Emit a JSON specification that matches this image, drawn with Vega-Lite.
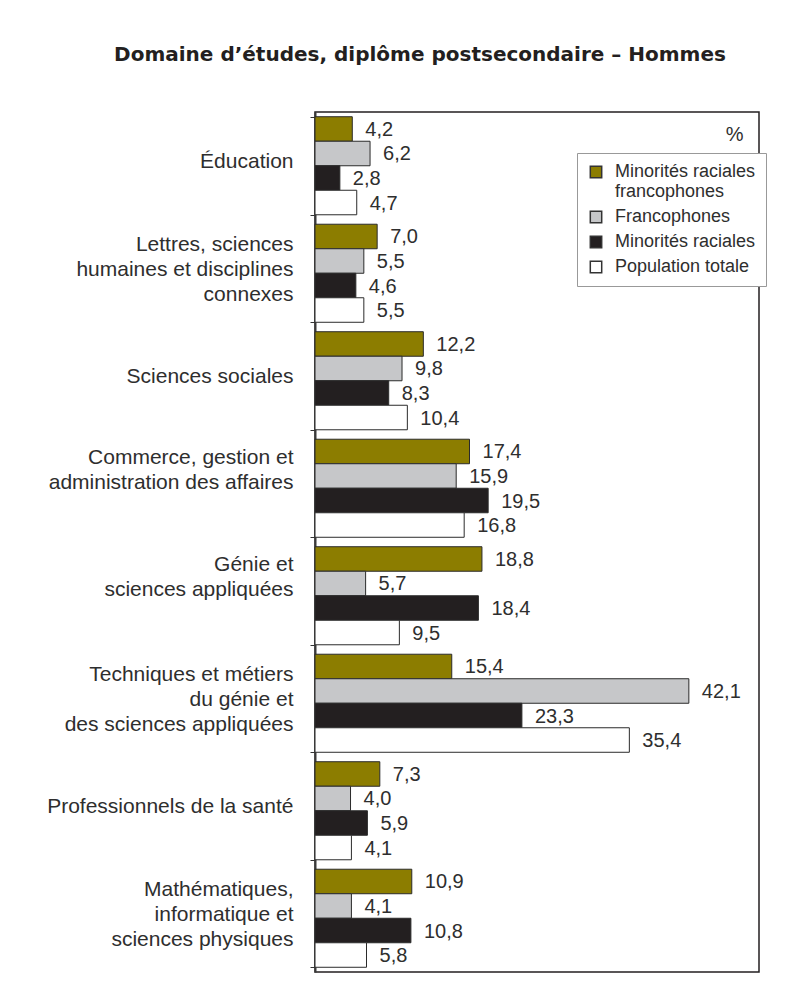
{
  "$schema": "https://vega.github.io/schema/vega-lite/v6.json",
  "width": 444,
  "height": 860,
  "autosize": {"type": "none"},
  "padding": {"left": 315, "top": 112, "right": 53, "bottom": 16},
  "background": "white",
  "title": {
    "text": "Domaine d’études, diplôme postsecondaire – Hommes",
    "anchor": "middle",
    "frame": "group",
    "dx": -117,
    "offset": 20,
    "baseline": "alphabetic",
    "font": "DejaVu Sans",
    "fontSize": 20,
    "fontWeight": "bold",
    "color": "#231f20"
  },
  "data": {
    "values": [
      {"domaine": "Éducation", "groupe": "Minorités raciales francophones", "pct": 4.2},
      {"domaine": "Éducation", "groupe": "Francophones", "pct": 6.2},
      {"domaine": "Éducation", "groupe": "Minorités raciales", "pct": 2.8},
      {"domaine": "Éducation", "groupe": "Population totale", "pct": 4.7},
      {"domaine": "Lettres, sciences|humaines et disciplines|connexes", "groupe": "Minorités raciales francophones", "pct": 7.0},
      {"domaine": "Lettres, sciences|humaines et disciplines|connexes", "groupe": "Francophones", "pct": 5.5},
      {"domaine": "Lettres, sciences|humaines et disciplines|connexes", "groupe": "Minorités raciales", "pct": 4.6},
      {"domaine": "Lettres, sciences|humaines et disciplines|connexes", "groupe": "Population totale", "pct": 5.5},
      {"domaine": "Sciences sociales", "groupe": "Minorités raciales francophones", "pct": 12.2},
      {"domaine": "Sciences sociales", "groupe": "Francophones", "pct": 9.8},
      {"domaine": "Sciences sociales", "groupe": "Minorités raciales", "pct": 8.3},
      {"domaine": "Sciences sociales", "groupe": "Population totale", "pct": 10.4},
      {"domaine": "Commerce, gestion et|administration des affaires", "groupe": "Minorités raciales francophones", "pct": 17.4},
      {"domaine": "Commerce, gestion et|administration des affaires", "groupe": "Francophones", "pct": 15.9},
      {"domaine": "Commerce, gestion et|administration des affaires", "groupe": "Minorités raciales", "pct": 19.5},
      {"domaine": "Commerce, gestion et|administration des affaires", "groupe": "Population totale", "pct": 16.8},
      {"domaine": "Génie et|sciences appliquées", "groupe": "Minorités raciales francophones", "pct": 18.8},
      {"domaine": "Génie et|sciences appliquées", "groupe": "Francophones", "pct": 5.7},
      {"domaine": "Génie et|sciences appliquées", "groupe": "Minorités raciales", "pct": 18.4},
      {"domaine": "Génie et|sciences appliquées", "groupe": "Population totale", "pct": 9.5},
      {"domaine": "Techniques et métiers|du génie et|des sciences appliquées", "groupe": "Minorités raciales francophones", "pct": 15.4},
      {"domaine": "Techniques et métiers|du génie et|des sciences appliquées", "groupe": "Francophones", "pct": 42.1},
      {"domaine": "Techniques et métiers|du génie et|des sciences appliquées", "groupe": "Minorités raciales", "pct": 23.3},
      {"domaine": "Techniques et métiers|du génie et|des sciences appliquées", "groupe": "Population totale", "pct": 35.4},
      {"domaine": "Professionnels de la santé", "groupe": "Minorités raciales francophones", "pct": 7.3},
      {"domaine": "Professionnels de la santé", "groupe": "Francophones", "pct": 4.0},
      {"domaine": "Professionnels de la santé", "groupe": "Minorités raciales", "pct": 5.9},
      {"domaine": "Professionnels de la santé", "groupe": "Population totale", "pct": 4.1},
      {"domaine": "Mathématiques,|informatique et|sciences physiques", "groupe": "Minorités raciales francophones", "pct": 10.9},
      {"domaine": "Mathématiques,|informatique et|sciences physiques", "groupe": "Francophones", "pct": 4.1},
      {"domaine": "Mathématiques,|informatique et|sciences physiques", "groupe": "Minorités raciales", "pct": 10.8},
      {"domaine": "Mathématiques,|informatique et|sciences physiques", "groupe": "Population totale", "pct": 5.8}
    ]
  },
  "encoding": {
    "y": {
      "field": "domaine",
      "type": "nominal",
      "sort": null,
      "scale": {"paddingInner": 0.088, "paddingOuter": 0.044},
      "axis": {
        "title": null,
        "tickBand": "extent",
        "tickOffset": -4,
        "labelExpr": "split(datum.label, '|')",
        "labelOffset": {
          "condition": [
            {"test": "length(split(datum.label, '|')) == 3", "value": -29},
            {"test": "length(split(datum.label, '|')) == 2", "value": -31}
          ],
          "value": -4
        },
        "labelFont": "Liberation Sans",
        "labelFontSize": 21,
        "labelColor": "#2e2e2e",
        "labelPadding": 17,
        "labelLineHeight": 25,
        "labelLimit": 0,
        "ticks": true,
        "tickSize": 5,
        "tickColor": "#333333",
        "domainColor": "#3a3a3a",
        "domainWidth": 2
      }
    },
    "yOffset": {
      "field": "groupe",
      "type": "nominal",
      "sort": ["Minorités raciales francophones", "Francophones", "Minorités raciales", "Population totale"],
      "scale": {"paddingInner": 0, "paddingOuter": 0}
    },
    "x": {
      "field": "pct",
      "type": "quantitative",
      "scale": {"domain": [0, 50], "nice": false},
      "axis": {
        "orient": "top",
        "title": "%",
        "labels": false,
        "ticks": false,
        "domain": false,
        "grid": false,
        "titleX": 428,
        "titleY": 22,
        "titleAlign": "right",
        "titleBaseline": "middle",
        "titleFont": "Liberation Sans",
        "titleFontWeight": "normal",
        "titleFontSize": 20,
        "titleColor": "#2e2e2e",
        "minExtent": 0,
        "maxExtent": 0
      }
    }
  },
  "layer": [
    {
      "mark": {"type": "bar", "stroke": "#2b2b2b", "strokeWidth": 1},
      "encoding": {
        "color": {
          "field": "groupe",
          "type": "nominal",
          "scale": {
            "domain": ["Minorités raciales francophones", "Francophones", "Minorités raciales", "Population totale"],
            "range": ["#8c7d00", "#c6c7c9", "#231f20", "#ffffff"]
          },
          "legend": {
            "orient": "none",
            "legendX": 262,
            "legendY": 41,
            "title": null,
            "symbolType": "square",
            "symbolSize": 130,
            "symbolStrokeColor": "#333333",
            "symbolStrokeWidth": 1.5,
            "symbolOpacity": 1,
            "labelFont": "Liberation Sans",
            "labelFontSize": 18,
            "labelColor": "#2e2e2e",
            "labelLineHeight": 17,
            "labelLimit": 0,
            "labelOffset": 10,
            "labelExpr": "datum.label == 'Minorités raciales francophones' ? ['Minorités raciales', 'francophones'] : datum.label",
            "padding": 10,
            "rowPadding": 7,
            "fillColor": "white",
            "strokeColor": "#999999"
          }
        }
      }
    },
    {
      "mark": {"type": "text", "align": "left", "baseline": "middle", "dx": 13, "dy": 1, "font": "Liberation Sans", "fontSize": 20, "color": "#2e2e2e"},
      "encoding": {
        "text": {"field": "pct", "type": "quantitative", "format": ".1f"}
      }
    }
  ],
  "config": {
    "view": {"stroke": "#231f20", "strokeWidth": 1.5},
    "locale": {"number": {"decimal": ",", "thousands": " ", "grouping": [3], "currency": ["", " $"]}}
  }
}
